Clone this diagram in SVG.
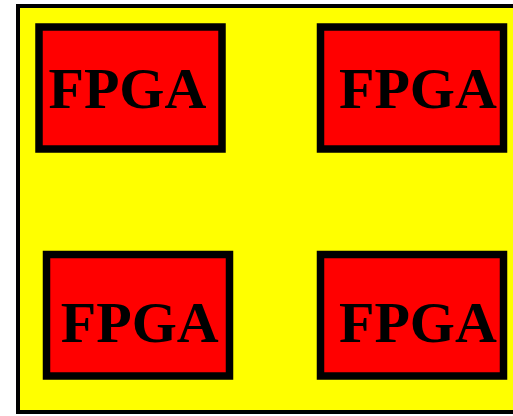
<svg xmlns="http://www.w3.org/2000/svg" width="513" height="416" viewBox="0 0 513 416">
<style>
.board{fill:#ffff00;stroke:#000;stroke-width:4}
.chip{fill:#ff0000;stroke:#000;stroke-width:7.5}
.lbl{font-family:"Liberation Serif","Times New Roman",serif;font-weight:bold;font-size:58px;fill:#000}
</style>
<rect width="513" height="416" fill="#fff"/>
<g id="board"><rect class="board" x="18" y="6" width="502" height="406"/></g>
<g id="fpga1"><rect class="chip" x="39" y="27" width="183" height="122"/><text class="lbl" x="48.5" y="108">FPGA</text></g>
<g id="fpga2"><rect class="chip" x="320.5" y="27" width="183" height="122"/><text class="lbl" x="339" y="108">FPGA</text></g>
<g id="fpga3"><rect class="chip" x="46.5" y="254.5" width="183" height="121.5"/><text class="lbl" x="60.8" y="341.5">FPGA</text></g>
<g id="fpga4"><rect class="chip" x="320.5" y="254.5" width="183" height="121.5"/><text class="lbl" x="339" y="341.5">FPGA</text></g>
<g id="connectors"></g>
</svg>
